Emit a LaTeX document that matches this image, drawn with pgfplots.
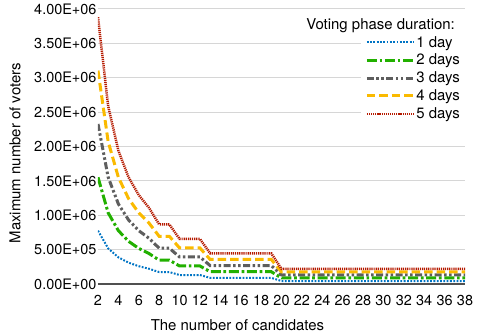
\documentclass[border=0pt]{standalone}
\usepackage{fontspec}
\setmainfont{TeX Gyre Heros}
\usepackage{pgfplots}
\usepackage{pgfplotstable}
\pgfplotsset{compat=1.18}

\definecolor{dayone}{RGB}{0,116,196}
\definecolor{daytwo}{RGB}{34,176,0}
\definecolor{daythree}{RGB}{94,94,94}
\definecolor{dayfour}{RGB}{250,186,0}
\definecolor{dayfive}{RGB}{181,26,0}
\definecolor{gridgray}{RGB}{214,214,214}
\definecolor{axisgray}{RGB}{80,80,80}

% max voters per number of candidates, one column per voting phase length
\pgfplotstableread{
n  d1     d2      d3      d4      d5
2  776000 1552000 2328000 3104000 3880000
3  517300 1034600 1551900 2069200 2586500
4  388000 776000  1164000 1552000 1940000
5  310400 620800  931200  1241600 1552000
6  258700 517400  776100  1034800 1293500
7  221700 443400  665100  886800  1108500
8  173500 347000  520500  694000  867500
9  173500 347000  520500  694000  867500
10 131000 262000  393000  524000  655000
11 131000 262000  393000  524000  655000
12 131000 262000  393000  524000  655000
13 89300  178600  267900  357200  446500
14 89300  178600  267900  357200  446500
15 89300  178600  267900  357200  446500
16 89300  178600  267900  357200  446500
17 89300  178600  267900  357200  446500
18 89300  178600  267900  357200  446500
19 89300  178600  267900  357200  446500
20 43700  87400   131100  174800  218500
21 43700  87400   131100  174800  218500
22 43700  87400   131100  174800  218500
23 43700  87400   131100  174800  218500
24 43700  87400   131100  174800  218500
25 43700  87400   131100  174800  218500
26 43700  87400   131100  174800  218500
27 43700  87400   131100  174800  218500
28 43700  87400   131100  174800  218500
29 43700  87400   131100  174800  218500
30 43700  87400   131100  174800  218500
31 43700  87400   131100  174800  218500
32 43700  87400   131100  174800  218500
33 43700  87400   131100  174800  218500
34 43700  87400   131100  174800  218500
35 43700  87400   131100  174800  218500
36 43700  87400   131100  174800  218500
37 43700  87400   131100  174800  218500
38 43700  87400   131100  174800  218500
}\voters

\begin{document}
\begin{tikzpicture}
\begin{axis}[
  scale only axis, width=367bp, height=275bp,
  xmin=2, xmax=38, ymin=0, ymax=4000000,
  axis x line*=bottom, axis y line*=left,
  y axis line style={draw=none},
  x axis line style={color=axisgray, line width=1.5bp},
  tick style={draw=none},
  xtick={2,4,...,38},
  ytick={0,500000,1000000,1500000,2000000,2500000,3000000,3500000,4000000},
  yticklabels={0.00E+00,5.00E+05,1.00E+06,1.50E+06,2.00E+06,2.50E+06,3.00E+06,3.50E+06,4.00E+06},
  scaled y ticks=false,
  /pgf/number format/assume math mode=true,
  tick label style={font=\fontsize{14.5}{17}\selectfont},
  yticklabel style={xshift=2bp},
  xticklabel style={yshift=-8bp},
  ymajorgrids, grid style={color=gridgray, line width=1bp},
  xlabel={The number of candidates},
  ylabel={Maximum number of voters},
  label style={font=\fontsize{15}{18}\selectfont},
  xlabel style={at={(rel axis cs:0.38,-0.149)}, anchor=center},
  ylabel style={at={(rel axis cs:-0.226,0.476)}, anchor=center},
  legend style={at={(rel axis cs:1,0.913)}, anchor=north east,
    draw=none, fill=white, font=\fontsize{15}{18}\selectfont,
    row sep=3.5bp, inner xsep=4bp, inner ysep=2bp,
    nodes={inner sep=1bp}},
  legend cell align=left,
  legend image code/.code={\draw[#1] (0bp,0bp) -- (47bp,0bp);},
  no markers,
]
\addplot[color=dayone, line width=2bp, dash pattern=on 1.8bp off 1.5bp] table[x=n, y=d1] {\voters};
\addplot[color=daytwo, line width=3bp, dash pattern=on 10bp off 2.7bp on 2.7bp off 2.7bp] table[x=n, y=d2] {\voters};
\addplot[color=daythree, line width=3bp, dash pattern=on 7bp off 2.5bp on 2.5bp off 2.5bp on 2.5bp off 2.5bp] table[x=n, y=d3] {\voters};
\addplot[color=dayfour, line width=3bp, dash pattern=on 8.5bp off 4bp] table[x=n, y=d4] {\voters};
\addplot[color=dayfive, line width=2.5bp, dash pattern=on 1.2bp off 0.9bp] table[x=n, y=d5] {\voters};
\legend{1 day,2 days,3 days,4 days,5 days}
\node[anchor=east, font=\fontsize{15}{18}\selectfont] at (rel axis cs:0.982,0.94) {Voting phase duration:};
\coordinate (bbll) at (rel axis cs:-0.267,-0.1855);
\coordinate (bbur) at (rel axis cs:1.0354,1.0327);
\end{axis}
\pgfresetboundingbox
\useasboundingbox (bbll) rectangle (bbur);
\end{tikzpicture}
\end{document}
